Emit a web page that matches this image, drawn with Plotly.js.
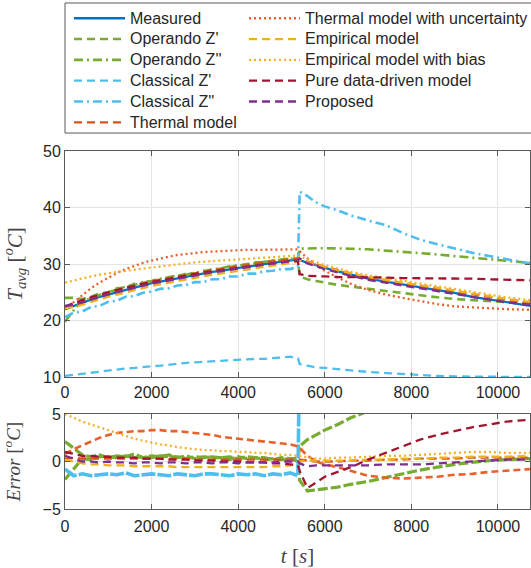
<!DOCTYPE html>
<html><head><meta charset="utf-8">
<script src="https://cdn.plot.ly/plotly-3.0.1.min.js"></script>
<style>html,body{margin:0;padding:0;background:#fff;overflow:hidden}</style>
</head><body>
<div id="chart" style="width:531px;height:568px"></div>
<script>
// time grid [s]
const t = [0,200,400,600,800,1000,1200,1400,1600,1800,2000,2200,2400,2600,2800,3000,3200,3400,3600,3800,4000,4200,4400,4600,4800,5000,5200,5380,
  5420,5600,5800,6000,6300,6600,7000,7400,7800,8200,8600,9000,9400,9800,10200,10740];

// Temperature T_avg [oC]
const measured = [22.0,22.6,23.2,23.7,24.2,24.6,25.1,25.5,25.9,26.3,26.6,26.9,27.2,27.5,27.8,28.0,28.3,28.6,28.8,29.1,29.3,29.5,29.8,30.0,30.2,30.4,30.6,30.8,
  30.7,30.2,29.8,29.3,28.7,28.1,27.4,26.9,26.4,25.9,25.4,24.9,24.2,23.7,23.2,22.6];
const operandoZ1 = [24.0,24.0,23.8,24.2,24.8,25.0,25.7,25.8,26.5,26.6,27.1,27.2,27.7,27.8,28.3,28.3,28.8,28.9,29.2,29.4,29.8,29.8,30.3,30.3,30.6,30.7,31.0,30.9,
  27.8,27.3,27.0,26.7,26.3,26.0,25.6,25.2,24.8,24.4,24.1,23.8,23.6,23.4,23.2,23.0];
const operandoZ2 = [19.8,21.8,23.5,23.9,24.5,25.1,25.4,26.0,26.3,26.8,27.0,27.4,27.6,28.0,28.1,28.5,28.6,29.1,29.2,29.6,29.7,30.0,30.1,30.4,30.5,30.8,30.9,31.0,
  32.7,32.8,32.8,32.8,32.8,32.7,32.6,32.4,32.2,32.0,31.7,31.4,31.1,30.9,30.6,30.2];
const classicalZ1 = [10.2,10.4,10.6,10.8,11.0,11.2,11.3,11.5,11.6,11.8,11.9,12.0,12.2,12.3,12.5,12.6,12.7,12.8,12.9,13.0,13.0,13.1,13.2,13.2,13.3,13.4,13.6,13.3,
  12.3,12.0,11.7,11.6,11.4,11.1,10.9,10.7,10.5,10.3,10.2,10.1,10.1,10.0,10.0,10.0];
const classicalZ2 = [20.6,21.4,21.6,22.4,22.6,23.3,23.5,24.2,24.3,24.9,25.1,25.6,25.7,26.2,26.3,26.8,26.8,27.3,27.3,27.8,27.8,28.3,28.3,28.7,28.8,29.1,29.1,29.5,
  42.8,42.0,40.9,40.2,39.5,38.6,37.7,36.9,35.5,34.3,33.5,32.7,32.0,31.4,30.8,30.1];
const thermal = [22.4,23.0,23.5,24.0,24.5,24.9,25.4,25.8,26.2,26.6,26.9,27.2,27.5,27.8,28.1,28.3,28.6,28.9,29.1,29.4,29.6,29.8,30.1,30.3,30.5,30.7,30.9,31.0,
  30.9,30.4,30.0,29.5,28.9,28.3,27.6,27.1,26.6,26.1,25.7,25.2,24.6,24.1,23.6,23.0];
const thermalUnc = [22.0,23.2,24.5,25.7,26.7,27.6,28.4,29.1,29.7,30.2,30.6,31.0,31.3,31.6,31.8,32.0,32.1,32.2,32.3,32.4,32.4,32.5,32.5,32.5,32.6,32.6,32.6,32.6,
  32.3,31.0,29.8,28.8,27.6,26.5,25.4,24.6,24.0,23.4,22.9,22.5,22.3,22.1,22.0,21.9];
const empirical = [22.2,22.4,22.8,23.3,23.8,24.2,24.6,25.0,25.4,25.8,26.1,26.4,26.7,27.0,27.3,27.5,27.8,28.1,28.3,28.6,28.8,29.0,29.3,29.5,29.7,29.9,30.1,30.4,
  30.7,30.3,29.9,29.4,28.8,28.3,27.7,27.2,26.7,26.3,25.8,25.3,24.8,24.3,23.8,23.3];
const empiricalBias = [26.7,27.1,27.5,27.8,28.1,28.4,28.6,28.8,29.0,29.2,29.4,29.6,29.8,30.0,30.1,30.3,30.4,30.5,30.6,30.7,30.8,30.9,31.0,31.1,31.2,31.3,31.4,31.5,
  31.3,30.8,30.3,29.8,29.2,28.6,28.0,27.5,27.0,26.5,26.0,25.6,25.1,24.6,24.1,23.6];
const pureData = [22.5,23.1,23.6,24.1,24.6,25.0,25.4,25.8,26.2,26.5,26.8,27.1,27.4,27.7,28.0,28.2,28.5,28.7,28.9,29.2,29.4,29.6,29.8,30.0,30.2,30.4,30.5,30.5,
  28.2,27.9,27.8,27.8,27.7,27.7,27.6,27.6,27.5,27.5,27.5,27.4,27.4,27.3,27.2,27.1];
const proposed = [22.6,22.8,23.2,23.7,24.2,24.6,25.0,25.4,25.8,26.2,26.5,26.8,27.1,27.4,27.7,27.9,28.2,28.5,28.7,29.0,29.2,29.4,29.7,29.9,30.1,30.3,30.5,30.7,
  31.0,30.1,29.6,29.1,28.5,27.9,27.2,26.7,26.2,25.7,25.2,24.8,24.2,23.7,23.2,22.8];

// Error [oC]
const errOperandoZ1 = [2.1,1.4,0.7,0.5,0.7,0.4,0.6,0.5,0.8,0.4,0.6,0.5,0.7,0.4,0.6,0.3,0.5,0.4,0.4,0.2,0.5,0.3,0.4,0.2,0.3,0.2,0.3,0.0,
  -2.0,-3.1,-3.0,-2.9,-2.7,-2.4,-2.1,-1.7,-1.3,-0.9,-0.6,-0.3,-0.1,0.1,0.2,0.3];
const errOperandoZ2 = [-1.9,-0.8,0.3,0.2,0.5,0.5,0.4,0.6,0.4,0.5,0.4,0.6,0.5,0.5,0.3,0.5,0.4,0.5,0.4,0.5,0.3,0.5,0.4,0.4,0.2,0.4,0.3,0.3,
  1.6,2.3,2.8,3.3,3.9,4.6,5.3,5.8,6.2,6.5,6.7,6.9,7.0,7.1,7.2,7.3];
const errClassicalZ1 = [-11.8,-12.2,-12.6,-12.9,-13.2,-13.4,-13.8,-14.0,-14.3,-14.5,-14.7,-14.9,-15.0,-15.2,-15.3,-15.4,-15.6,-15.8,-15.9,-16.1,-16.3,-16.4,-16.6,-16.8,-16.9,-17.0,-17.0,-17.5,
  -18.4,-18.2,-18.1,-17.7,-17.3,-17.0,-16.5,-16.2,-15.9,-15.6,-15.2,-14.8,-14.1,-13.7,-13.2,-12.6];
const errClassicalZ2 = [-0.8,-1.5,-1.3,-1.5,-1.4,-1.3,-1.4,-1.2,-1.5,-1.4,-1.3,-1.4,-1.5,-1.3,-1.4,-1.5,-1.3,-1.3,-1.4,-1.5,-1.3,-1.4,-1.3,-1.5,-1.3,-1.4,-1.2,-1.5,
  12.1,11.8,11.1,10.9,10.8,10.5,10.3,10.0,9.1,8.4,8.1,7.8,7.8,7.7,7.6,7.5];
const errThermal = [0.3,0.4,0.3,0.3,0.3,0.3,0.3,0.3,0.3,0.3,0.3,0.3,0.3,0.3,0.3,0.2,0.2,0.2,0.2,0.2,0.2,0.2,0.2,0.2,0.2,0.2,0.2,0.2,
  0.2,0.1,0.0,0.0,0.0,0.1,0.1,0.2,0.2,0.3,0.3,0.3,0.4,0.4,0.4,0.4];
const errThermalUnc = [0.8,1.3,1.7,2.1,2.5,2.8,3.0,3.1,3.2,3.2,3.3,3.3,3.2,3.2,3.1,3.0,2.9,2.8,2.6,2.5,2.4,2.3,2.2,2.1,2.0,1.9,1.8,1.6,
  1.4,0.6,0.0,-0.3,-0.6,-1.0,-1.5,-1.7,-1.8,-1.7,-1.6,-1.4,-1.3,-1.1,-1.0,-0.8];
const errEmpirical = [0.2,0.0,-0.2,-0.3,-0.3,-0.4,-0.4,-0.4,-0.5,-0.5,-0.5,-0.5,-0.5,-0.6,-0.6,-0.6,-0.6,-0.6,-0.6,-0.6,-0.6,-0.6,-0.6,-0.6,-0.5,-0.5,-0.4,-0.3,
  0.0,0.1,0.1,0.1,0.1,0.1,0.2,0.2,0.3,0.3,0.4,0.4,0.5,0.5,0.5,0.6];
const errEmpiricalBias = [5.0,4.6,4.2,3.9,3.6,3.3,3.0,2.7,2.4,2.2,2.0,1.8,1.7,1.5,1.4,1.3,1.2,1.2,1.1,1.1,1.0,1.0,0.9,0.9,0.8,0.7,0.7,0.6,
  0.5,0.4,0.3,0.3,0.4,0.4,0.5,0.6,0.6,0.7,0.8,0.9,1.0,1.0,0.9,0.9];
const errPureData = [1.0,0.8,0.6,0.6,0.5,0.5,0.4,0.4,0.4,0.3,0.3,0.3,0.2,0.2,0.2,0.1,0.1,0.1,0.0,0.0,0.0,-0.1,-0.1,-0.1,-0.2,-0.2,-0.3,-0.4,
  -1.0,-2.8,-2.2,-1.6,-1.1,-0.6,0.2,0.9,1.6,2.3,2.8,3.2,3.6,3.9,4.2,4.4];
const errProposed = [0.6,0.3,0.0,0.0,-0.1,0.0,-0.1,-0.1,-0.2,-0.1,-0.1,-0.2,-0.1,-0.1,-0.2,-0.1,-0.1,-0.2,-0.1,-0.1,-0.2,-0.1,-0.1,-0.1,-0.1,0.0,0.0,0.0,
  -0.2,-0.5,-0.4,-0.4,-0.4,-0.4,-0.4,-0.3,-0.3,-0.3,-0.2,-0.1,0.0,0.1,0.2,0.2];

const xTicks = [0,2000,4000,6000,8000,10000];
const xTickText = ['0','2000','4000','6000','8000','10000'];
const yTicksTop = [10,20,30,40,50];
const yTicksBottom = [-5,0,5];

const DASH = '8px,5px', DOT = '2px,3px', DASHDOT = '9px,4px,2px,4px', SOLID = 'solid';
const W = 2.3;

const series = [
  {name:'Measured', y:measured, e:null, color:'#0072BD', dash:SOLID, edash:SOLID, w:W, ew:W, legend:'legend'},
  {name:"Operando Z'", y:operandoZ1, e:errOperandoZ1, color:'#77AC30', dash:DASH, edash:'10px,3px', w:2.6, ew:3.2, legend:'legend'},
  {name:"Operando Z''", y:operandoZ2, e:errOperandoZ2, color:'#77AC30', dash:DASHDOT, edash:'10px,3px', w:2.6, ew:3.2, legend:'legend'},
  {name:"Classical Z'", y:classicalZ1, e:errClassicalZ1, color:'#4DBEEE', dash:DASH, edash:DASH, w:W, ew:W, legend:'legend'},
  {name:"Classical Z''", y:classicalZ2, e:errClassicalZ2, color:'#4DBEEE', dash:DASHDOT, edash:'14px,2px', w:2.6, ew:3.6, legend:'legend'},
  {name:'Thermal model', y:thermal, e:errThermal, color:'#D95319', dash:DASH, edash:DASH, w:W, ew:W, legend:'legend'},
  {name:'Thermal model with uncertainty', y:thermalUnc, e:errThermalUnc, color:'#E8602A', dash:DOT, edash:'7px,4px', w:W, ew:2.6, legend:'legend2'},
  {name:'Empirical model', y:empirical, e:errEmpirical, color:'#EDB120', dash:DASH, edash:DASH, w:W, ew:W, legend:'legend2'},
  {name:'Empirical model with bias', y:empiricalBias, e:errEmpiricalBias, color:'#F5B028', dash:DOT, edash:DOT, w:W, ew:W, legend:'legend2'},
  {name:'Pure data-driven model', y:pureData, e:errPureData, color:'#A2142F', dash:DASH, edash:DASH, w:W, ew:W, legend:'legend2'},
  {name:'Proposed', y:proposed, e:errProposed, color:'#7E2F8E', dash:DASH, edash:DASH, w:W, ew:W, legend:'legend2'}
];

const traces = [];
series.forEach(s => {
  traces.push({type:'scatter', mode:'lines', x:t, y:s.y,
    name:'<span style="font-size:16px">' + s.name + '</span>', xaxis:'x', yaxis:'y',
    line:{color:s.color, width:s.w, dash:s.dash}, legend:s.legend, showlegend:true, hoverinfo:'skip'});
});
series.forEach(s => {
  if (!s.e) return;
  traces.push({type:'scatter', mode:'lines', x:t, y:s.e, name:s.name, xaxis:'x2', yaxis:'y2',
    line:{color:s.color, width:s.ew, dash:s.edash}, showlegend:false, hoverinfo:'skip'});
});

const axisCommon = {
  showline:true, linecolor:'#5a5a5a', linewidth:1, mirror:'ticks',
  ticks:'inside', ticklen:5, tickcolor:'#5a5a5a',
  showgrid:true, gridcolor:'#e4e4e4', gridwidth:1, zeroline:false,
  tickfont:{family:'Liberation Sans, Arial, sans-serif', size:16, color:'#262626'}
};
const serif = 'Liberation Serif, Times New Roman, serif';
const legendCommon = {xanchor:'left', yanchor:'top', bgcolor:'rgba(0,0,0,0)', borderwidth:0,
  itemwidth:51, tracegroupgap:0, font:{size:13.7, color:'#262626'}};

const layout = {
  width:531, height:568,
  margin:{l:65, r:1, t:0, b:0, autoexpand:false},
  paper_bgcolor:'#ffffff', plot_bgcolor:'#ffffff',
  font:{family:'Liberation Sans, Arial, sans-serif', size:16, color:'#262626'},
  xaxis:Object.assign({}, axisCommon, {domain:[0,1], anchor:'y', range:[0,10740], tickvals:xTicks, ticktext:xTickText, ticklabelstandoff:1}),
  yaxis:Object.assign({}, axisCommon, {domain:[0.33627,0.73415], anchor:'x', range:[10,50], tickvals:yTicksTop,
    title:{text:'<i>T</i><sub><i>avg</i></sub> [<sup><i>o</i></sup><i>C</i>]', font:{family:serif, size:21, color:'#444'}}}),
  xaxis2:Object.assign({}, axisCommon, {domain:[0,1], anchor:'y2', range:[0,10740], tickvals:xTicks, ticktext:xTickText, ticklabelstandoff:3,
    title:{text:'<i>t</i> [<i>s</i>]', font:{family:serif, size:21, color:'#444'}}}),
  yaxis2:Object.assign({}, axisCommon, {domain:[0.10387,0.27113], anchor:'x2', range:[-5,5], tickvals:yTicksBottom,
    title:{text:'<i>Error</i> [<sup><i>o</i></sup><i>C</i>]', font:{family:serif, size:19, color:'#444'}}}),
  legend:Object.assign({}, legendCommon, {x:0.0086, y:0.995}),
  legend2:Object.assign({}, legendCommon, {x:0.385, y:0.995}),
  shapes:[{type:'rect', xref:'paper', yref:'paper', x0:0, x1:1.2, y0:0.7658, y1:0.9947,
    line:{color:'#5a5a5a', width:1}, fillcolor:'#ffffff', layer:'below'}],
  showlegend:true
};

Plotly.newPlot('chart', traces, layout, {staticPlot:true, displayModeBar:false});
</script>
</body></html>
